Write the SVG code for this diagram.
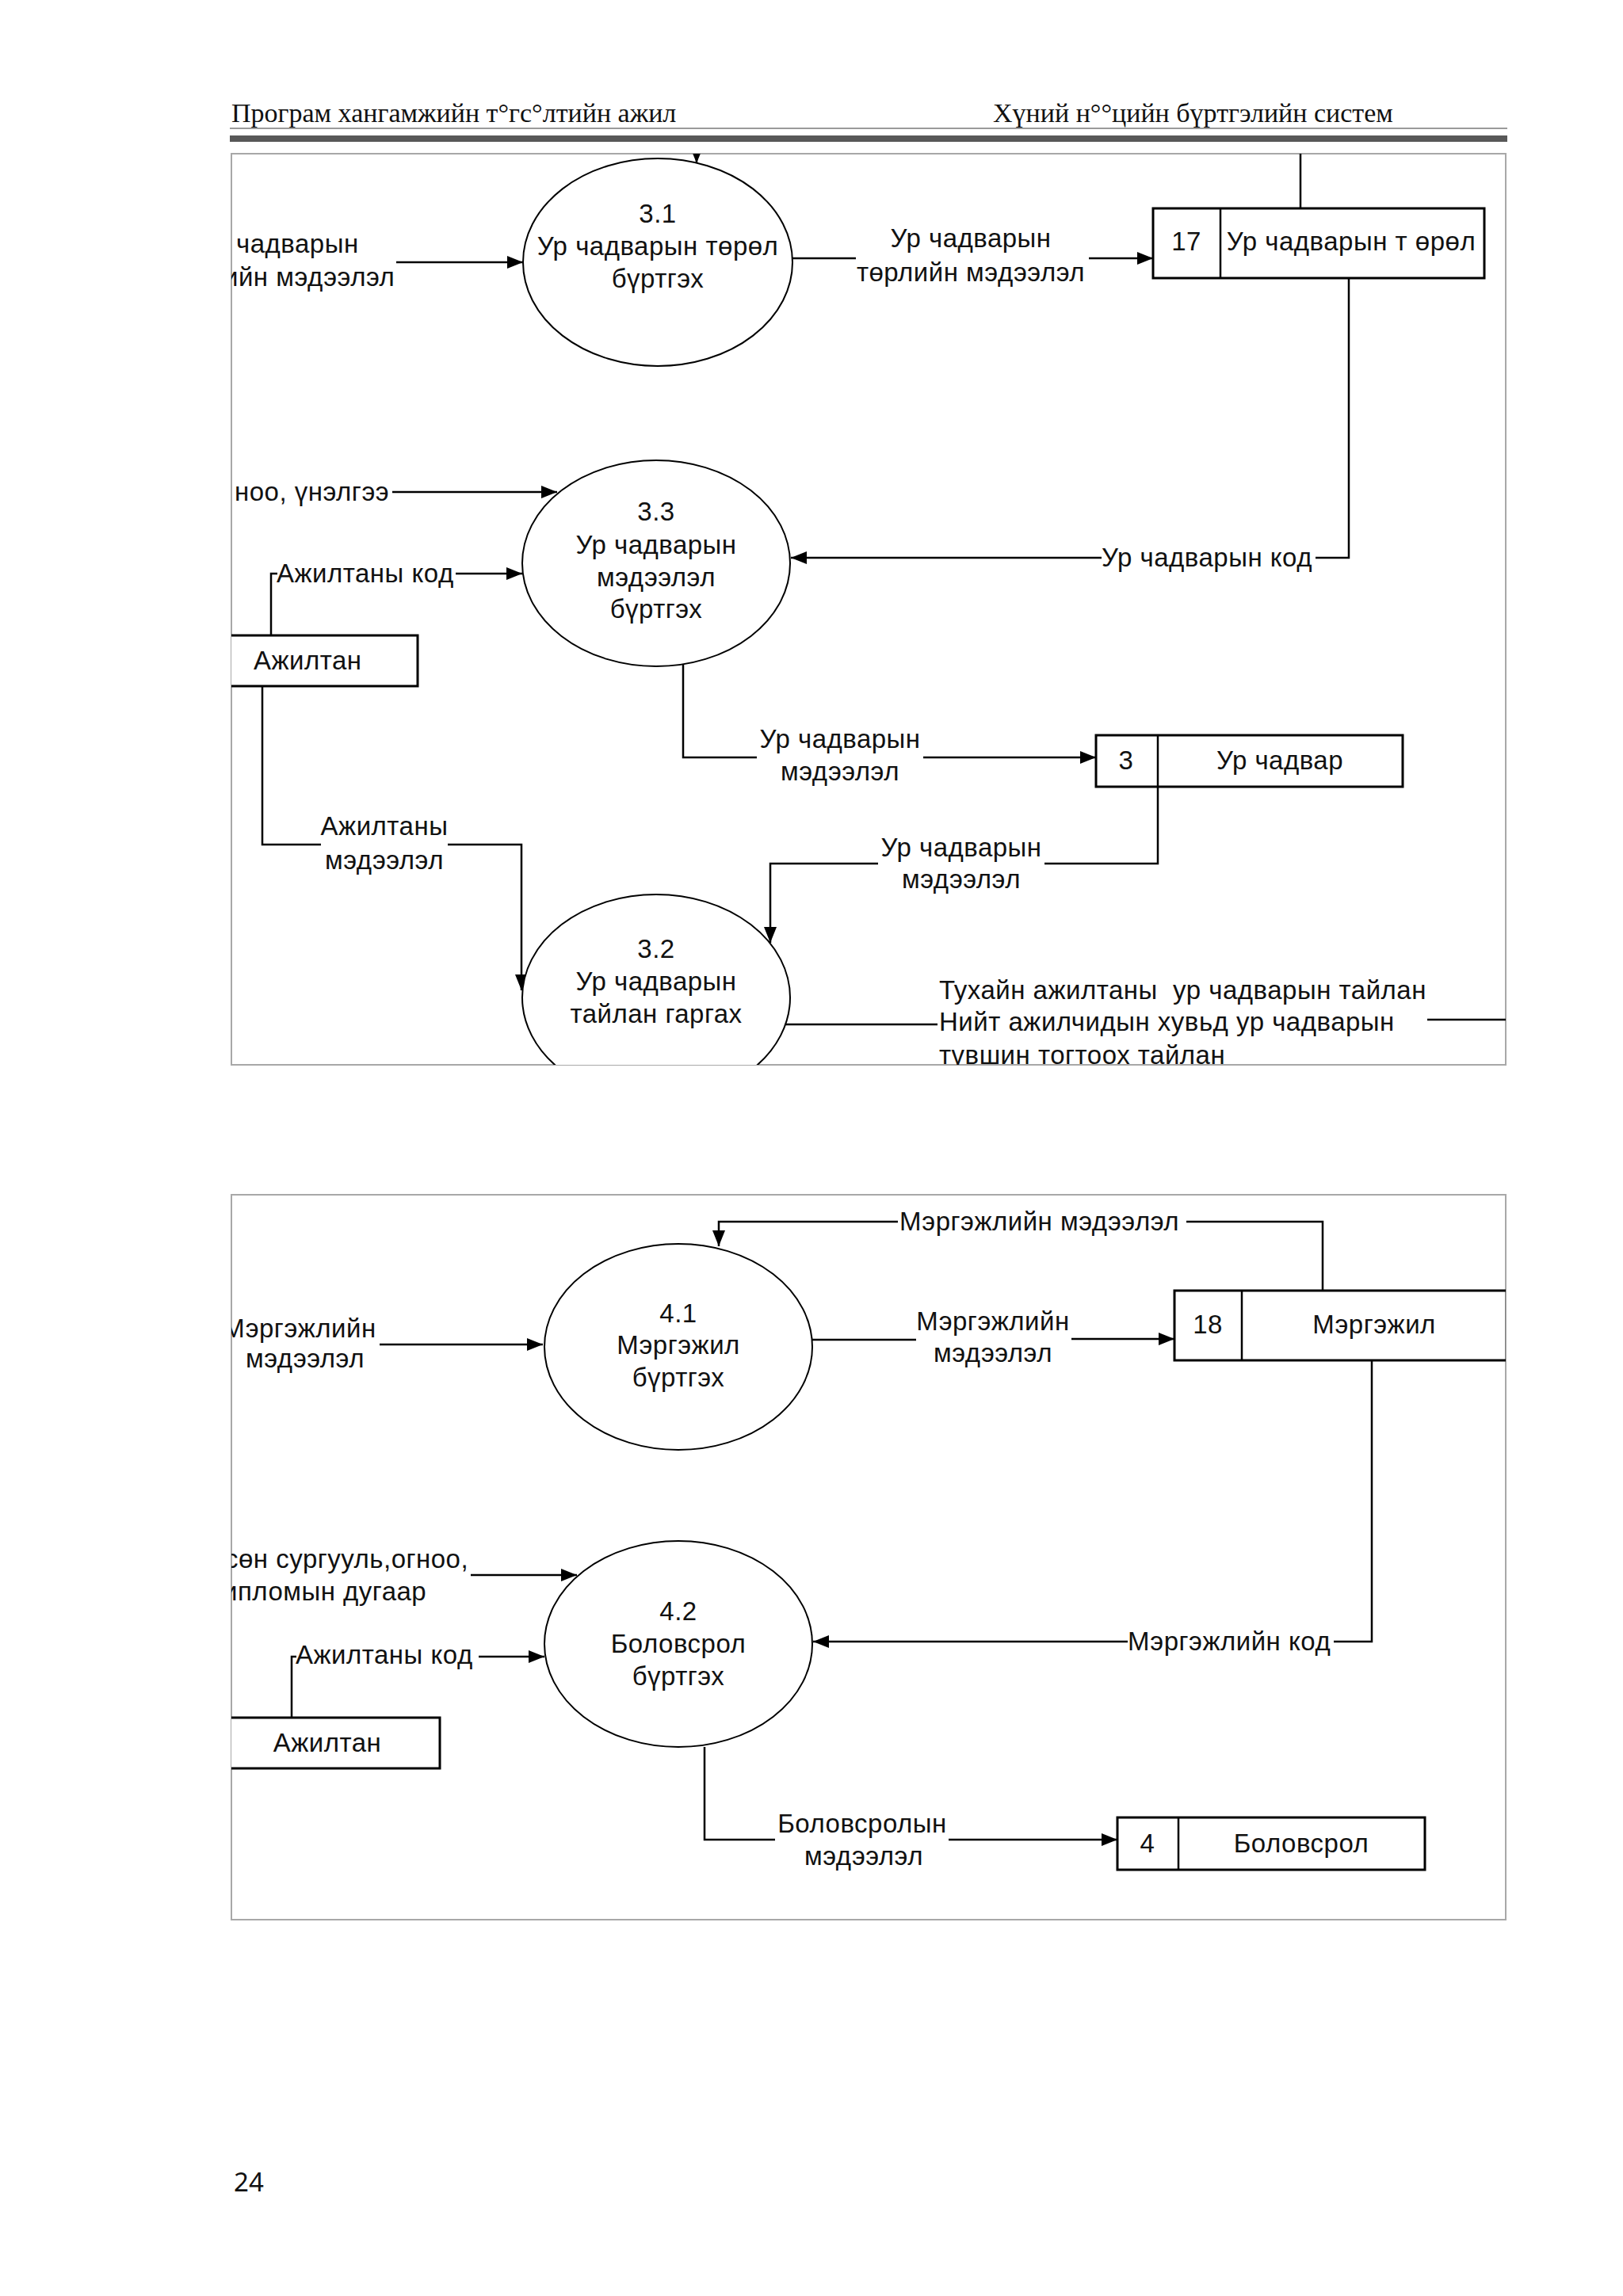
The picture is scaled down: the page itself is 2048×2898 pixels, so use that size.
<svg xmlns="http://www.w3.org/2000/svg" width="2048" height="2898" viewBox="0 0 2048 2898">
<style>
.t{font-family:"Liberation Sans",Arial,sans-serif;font-size:33px;letter-spacing:0.5px;fill:#111;white-space:pre}
.c{text-anchor:middle}
.hd{font-family:"Liberation Serif","Times New Roman",serif;font-size:34px;fill:#111}
.proc{fill:#fff;stroke:#000;stroke-width:2}
.store{fill:#fff;stroke:#000;stroke-width:3}
.ent{fill:#fff;stroke:#000;stroke-width:3}
.ln{fill:none;stroke:#000;stroke-width:2.5}
.ar{fill:none;stroke:#000;stroke-width:2.5;marker-end:url(#ah)}
.frame{fill:#fff;stroke:#a8a8a8;stroke-width:2}
</style>
<defs>
<marker id="ah" markerUnits="userSpaceOnUse" markerWidth="22" markerHeight="18" refX="20" refY="8" orient="auto">
<path d="M0,0 L20,8 L0,16 Z" fill="#000"/>
</marker>
<clipPath id="clipTop"><rect x="292" y="194" width="1608" height="1150"/></clipPath>
<clipPath id="clipBot"><rect x="292" y="1508" width="1608" height="915"/></clipPath>
</defs>
<rect width="2048" height="2898" fill="#fff"/>

<g id="header">
<text class="hd" x="292" y="154">Програм хангамжийн т°гс°лтийн ажил</text>
<text class="hd" x="1253" y="154">Хүний н°°цийн бүртгэлийн систем</text>
<line x1="290" y1="162" x2="1902" y2="162" stroke="#9a9a9a" stroke-width="2"/>
<rect x="290" y="171" width="1612" height="8" fill="#585858"/>
</g>

<!-- TOP PANEL -->
<rect class="frame" x="292" y="194" width="1608" height="1150"/>
<g clip-path="url(#clipTop)">
<g id="connectors-top">
<path class="ar" d="M879,186 V206"/>
<path class="ar" d="M500,331 H660"/>
<path class="ln" d="M1000,326 H1080"/>
<path class="ar" d="M1374,326 H1455"/>
<path class="ln" d="M1641,194 V263"/>
<path class="ln" d="M1702,351 V704 H1660"/>
<path class="ar" d="M1390,704 H998"/>
<path class="ar" d="M495,621 H703"/>
<path class="ln" d="M342,802 V724 H350"/>
<path class="ar" d="M575,724 H659"/>
<path class="ln" d="M862,838 V956 H955"/>
<path class="ar" d="M1165,956 H1383"/>
<path class="ln" d="M331,866 V1066 H405"/>
<path class="ar" d="M565,1066 H658 V1250"/>
<path class="ln" d="M1461,993 V1090 H1318"/>
<path class="ar" d="M1108,1090 H972 V1190"/>
<path class="ln" d="M991,1293 H1183"/>
<path class="ln" d="M1801,1287 H1900"/>
</g>
<g id="labels-top">
<text class="t" x="298" y="319">чадварын</text>
<text class="t" x="282" y="361">ийн мэдээлэл</text>
<text class="t c" x="1225" y="312">Ур чадварын</text>
<text class="t c" x="1225" y="355">төрлийн мэдээлэл</text>
<text class="t" x="1390" y="715">Ур чадварын код</text>
<text class="t" x="296" y="632">ноо, үнэлгээ</text>
<text class="t" x="349" y="735">Ажилтаны код</text>
<text class="t c" x="1060" y="944">Ур чадварын</text>
<text class="t c" x="1060" y="985">мэдээлэл</text>
<text class="t c" x="485" y="1054">Ажилтаны</text>
<text class="t c" x="485" y="1097">мэдээлэл</text>
<text class="t c" x="1213" y="1081">Ур чадварын</text>
<text class="t c" x="1213" y="1121">мэдээлэл</text>
<text class="t" x="1185" y="1261">Тухайн ажилтаны  ур чадварын тайлан</text>
<text class="t" x="1185" y="1301">Нийт ажилчидын хувьд ур чадварын</text>
<text class="t" x="1185" y="1343">түвшин тогтоох тайлан</text>
</g>
<g id="p31">
<ellipse class="proc" cx="830" cy="331" rx="170" ry="131"/>
<text class="t c" x="830" y="281">3.1</text>
<text class="t c" x="830" y="322">Ур чадварын төрөл</text>
<text class="t c" x="830" y="363">бүртгэх</text>
</g>
<g id="p33">
<ellipse class="proc" cx="828" cy="711" rx="169" ry="130"/>
<text class="t c" x="828" y="657">3.3</text>
<text class="t c" x="828" y="699">Ур чадварын</text>
<text class="t c" x="828" y="740">мэдээлэл</text>
<text class="t c" x="828" y="780">бүртгэх</text>
</g>
<g id="p32">
<ellipse class="proc" cx="828" cy="1259" rx="169" ry="130"/>
<text class="t c" x="828" y="1209">3.2</text>
<text class="t c" x="828" y="1250">Ур чадварын</text>
<text class="t c" x="828" y="1291">тайлан гаргах</text>
</g>
<g id="ds17">
<rect class="store" x="1455" y="263" width="418" height="88"/>
<line x1="1540" y1="263" x2="1540" y2="351" stroke="#000" stroke-width="2.5"/>
<text class="t c" x="1497" y="316">17</text>
<text class="t c" x="1705" y="316">Ур чадварын т өрөл</text>
</g>
<g id="ds3">
<rect class="store" x="1383" y="928" width="387" height="65"/>
<line x1="1461" y1="928" x2="1461" y2="993" stroke="#000" stroke-width="2.5"/>
<text class="t c" x="1421" y="971">3</text>
<text class="t c" x="1615" y="971">Ур чадвар</text>
</g>
<g id="ent-ajiltan-top">
<rect class="ent" x="290" y="802" width="237" height="64"/>
<text class="t" x="320" y="845">Ажилтан</text>
</g>
</g>

<!-- BOTTOM PANEL -->
<rect class="frame" x="292" y="1508" width="1608" height="915"/>
<g clip-path="url(#clipBot)">
<g id="connectors-bottom">
<path class="ar" d="M479,1697 H685"/>
<path class="ln" d="M1669,1629 V1542 H1497"/>
<path class="ar" d="M1133,1542 H907 V1573"/>
<path class="ln" d="M1025,1691 H1156"/>
<path class="ar" d="M1352,1690 H1482"/>
<path class="ln" d="M1731,1717 V2072 H1683"/>
<path class="ar" d="M1423,2072 H1026"/>
<path class="ar" d="M594,1988 H728"/>
<path class="ln" d="M368,2168 V2091 H374"/>
<path class="ar" d="M604,2091 H687"/>
<path class="ln" d="M889,2205 V2322 H978"/>
<path class="ar" d="M1197,2322 H1410"/>
</g>
<g id="labels-bottom">
<text class="t c" x="378" y="1688">Мэргэжлийн</text>
<text class="t c" x="385" y="1726">мэдээлэл</text>
<text class="t" x="1135" y="1553">Мэргэжлийн мэдээлэл</text>
<text class="t c" x="1253" y="1679">Мэргэжлийн</text>
<text class="t c" x="1253" y="1719">мэдээлэл</text>
<text class="t" x="1423" y="2083">Мэргэжлийн код</text>
<text class="t" x="284" y="1979">сөн сургууль,огноо,</text>
<text class="t" x="281" y="2020">ипломын дугаар</text>
<text class="t" x="373" y="2100">Ажилтаны код</text>
<text class="t c" x="1088" y="2313">Боловсролын</text>
<text class="t c" x="1090" y="2354">мэдээлэл</text>
</g>
<g id="p41">
<ellipse class="proc" cx="856" cy="1700" rx="169" ry="130"/>
<text class="t c" x="856" y="1669">4.1</text>
<text class="t c" x="856" y="1709">Мэргэжил</text>
<text class="t c" x="856" y="1750">бүртгэх</text>
</g>
<g id="p42">
<ellipse class="proc" cx="856" cy="2075" rx="169" ry="130"/>
<text class="t c" x="856" y="2045">4.2</text>
<text class="t c" x="856" y="2086">Боловсрол</text>
<text class="t c" x="856" y="2127">бүртгэх</text>
</g>
<g id="ds18">
<rect class="store" x="1482" y="1629" width="419" height="88"/>
<line x1="1567" y1="1629" x2="1567" y2="1717" stroke="#000" stroke-width="2.5"/>
<text class="t c" x="1524" y="1683">18</text>
<text class="t c" x="1734" y="1683">Мэргэжил</text>
</g>
<g id="ds4">
<rect class="store" x="1410" y="2294" width="388" height="66"/>
<line x1="1487" y1="2294" x2="1487" y2="2360" stroke="#000" stroke-width="2.5"/>
<text class="t c" x="1448" y="2338">4</text>
<text class="t c" x="1642" y="2338">Боловсрол</text>
</g>
<g id="ent-ajiltan-bottom">
<rect class="ent" x="290" y="2168" width="265" height="64"/>
<text class="t c" x="413" y="2211">Ажилтан</text>
</g>
</g>

<text x="295" y="2766" font-family="'Noto Sans','Liberation Sans',sans-serif" font-size="33" fill="#111">24</text>
</svg>
